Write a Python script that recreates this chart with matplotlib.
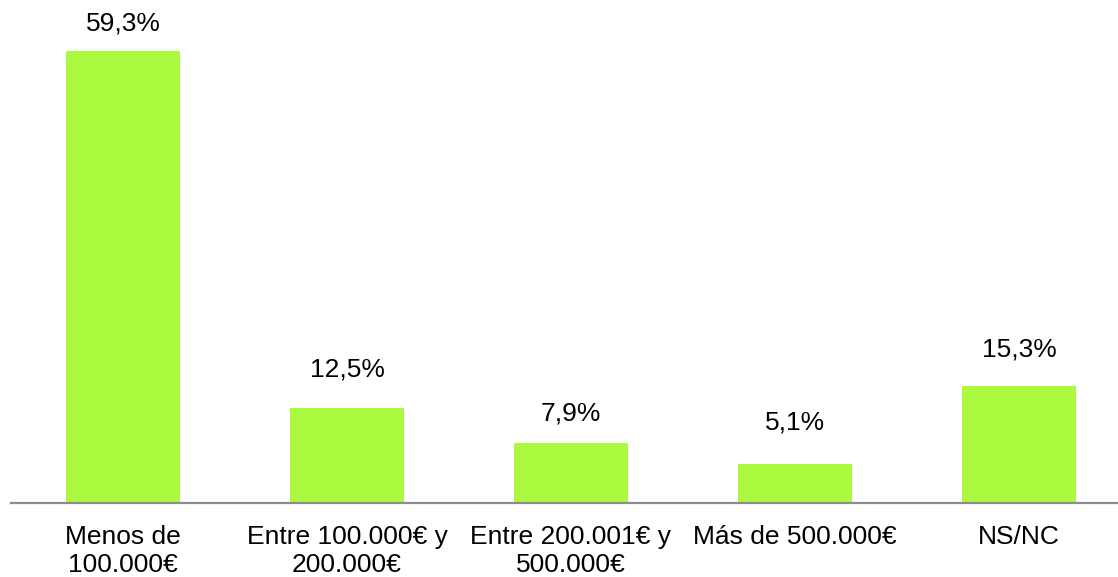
import matplotlib
matplotlib.use('Agg')
from matplotlib import pyplot as plt

categories = ['Menos de\n100.000€', 'Entre 100.000€ y\n200.000€', 'Entre 200.001€ y\n500.000€',
              'Más de 500.000€', 'NS/NC']
values = [59.3, 12.5, 7.9, 5.1, 15.3]
value_labels = ['59,3%', '12,5%', '7,9%', '5,1%', '15,3%']

plt.rcParams['font.family'] = ['Liberation Sans', 'DejaVu Sans']

W, H = 1118, 577
fig = plt.figure(figsize=(W / 100, H / 100), dpi=100)
ax = fig.add_axes([11 / W, 74 / H, 1120 / W, 503 / H])

xs = list(range(len(values)))
ax.bar(xs, values, width=0.513, color='#abfa40')
ax.set_xlim(-0.5, len(values) - 0.5)
ax.set_ylim(0, 66.0)

# label gaps above the bars are uneven in the original
label_offsets = [11.3, 19.2, 12.7, 21.4, 17.8]
for x, v, lab, off in zip(xs, values, value_labels, label_offsets):
    ax.annotate(lab, (x, v), xytext=(0, off), textcoords='offset points',
                ha='center', va='bottom', fontsize=19)

for x, cat in zip(xs, categories):
    ax.annotate(cat, (x, 0), xytext=(0, -16), textcoords='offset points',
                ha='center', va='top', fontsize=19, linespacing=1.22)

for s in ['top', 'right', 'left']:
    ax.spines[s].set_visible(False)
ax.spines['bottom'].set_color('#8c8c8c')
ax.spines['bottom'].set_linewidth(1.6)
ax.set_xticks([])
ax.set_yticks([])

fig.savefig('out.png', dpi=100)
